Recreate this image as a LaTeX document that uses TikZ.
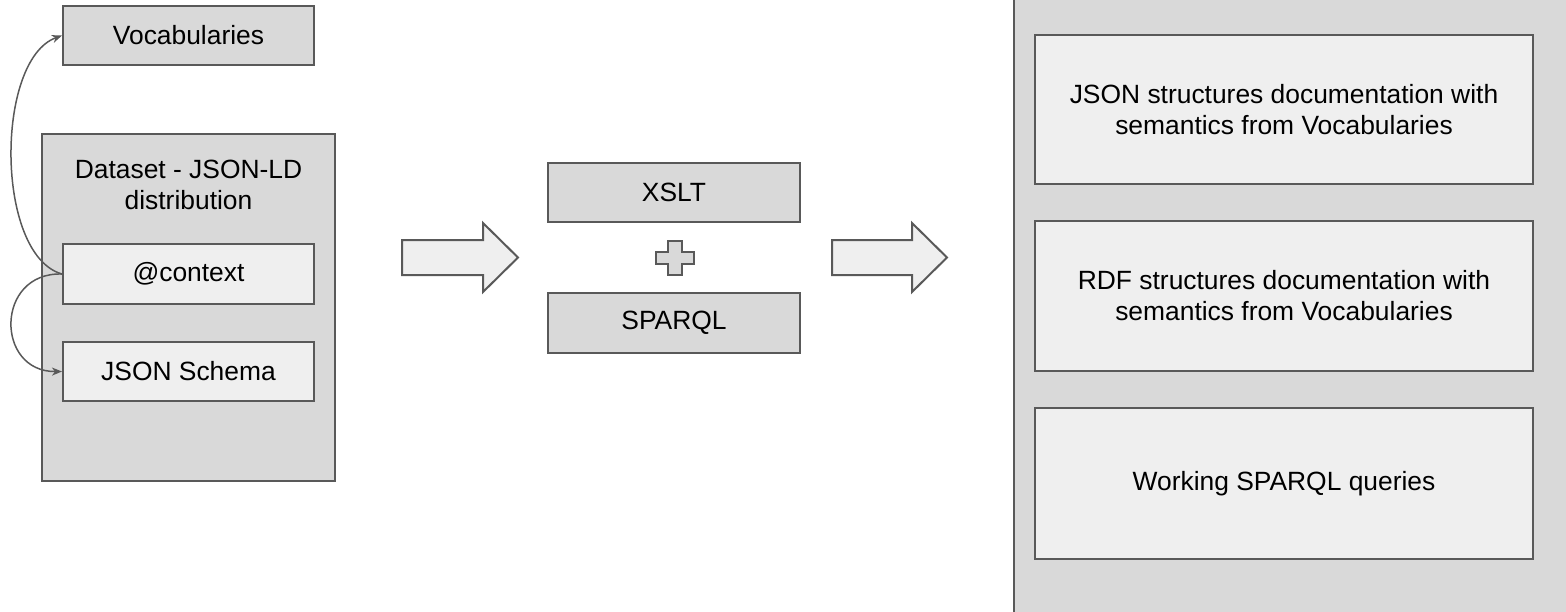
\documentclass[tikz,border=0pt]{standalone}
\usepackage{fontspec}
\setmainfont{Liberation Sans}
\usetikzlibrary{arrows.meta}
\definecolor{darkfill}{HTML}{D9D9D9}
\definecolor{lightfill}{HTML}{EFEFEF}
\definecolor{edge}{HTML}{595959}
\begin{document}
\begin{tikzpicture}[x=1pt,y=-1pt,
  txt/.style={font=\fontsize{26.4}{31}\selectfont, text=black, align=center},
  darkbox/.style={txt, draw=edge, line width=2pt, fill=darkfill, inner sep=0pt},
  lightbox/.style={txt, draw=edge, line width=2pt, fill=lightfill, inner sep=0pt},
  conn/.style={draw=edge, line width=1.5pt, -{Stealth[length=10pt,width=8pt,inset=3pt]}},
  blockarrow/.style={draw=edge, line width=2pt, fill=lightfill, line join=miter}
]
\useasboundingbox (0,0) rectangle (1566,611);
% right panel
\fill[darkfill] (1014,-2) rectangle (1568,613);
\draw[edge, line width=2.5pt] (1014,-2) -- (1014,613);

% left column
\node[darkbox, minimum width=251pt, minimum height=59pt] (voc) at (188.5,35.5) {Vocabularies};
\node[darkbox, minimum width=293pt, minimum height=347pt] (ds) at (188.5,307.5) {};
\node[txt, anchor=north] (dstxt) at (188.5,157) {Dataset - JSON-LD\\distribution};
\node[lightbox, minimum width=251pt, minimum height=60pt] (ctx) at (188.5,274) {@context};
\node[lightbox, minimum width=251pt, minimum height=59pt] (schema) at (188.5,371.5) {JSON Schema};

\draw[conn] (ctx.west) .. controls (-5,255) and (-5,60) .. (voc.west);
\draw[conn] (ctx.west) .. controls (-5,272) and (-5,372) .. (schema.west);

% block arrows
\draw[blockarrow] (402,240) -- (483,240) -- (483,223) -- (518,257.5) -- (483,292) -- (483,275) -- (402,275) -- cycle;
\draw[blockarrow] (832,240) -- (912,240) -- (912,223) -- (947,257.5) -- (912,292) -- (912,275) -- (832,275) -- cycle;

% middle
\node[darkbox, minimum width=252pt, minimum height=59pt] (xslt) at (674,192.5) {XSLT};
\node[darkbox, minimum width=252pt, minimum height=60pt] (sparql) at (674,323) {SPARQL};
\draw[draw=edge, line width=1.5pt, fill=darkfill]
  (668,241) -- (682,241) -- (682,252) -- (694,252) -- (694,264) -- (682,264) -- (682,275)
  -- (668,275) -- (668,264) -- (656,264) -- (656,252) -- (668,252) -- cycle;

% right boxes
\node[lightbox, minimum width=498pt, minimum height=149pt] (out1) at (1284,109.5) {JSON structures documentation with\\semantics from Vocabularies};
\node[lightbox, minimum width=498pt, minimum height=150pt] (out2) at (1284,296) {RDF structures documentation with\\semantics from Vocabularies};
\node[lightbox, minimum width=498pt, minimum height=151pt] (out3) at (1284,483.5) {Working SPARQL queries};
\end{tikzpicture}
\end{document}
